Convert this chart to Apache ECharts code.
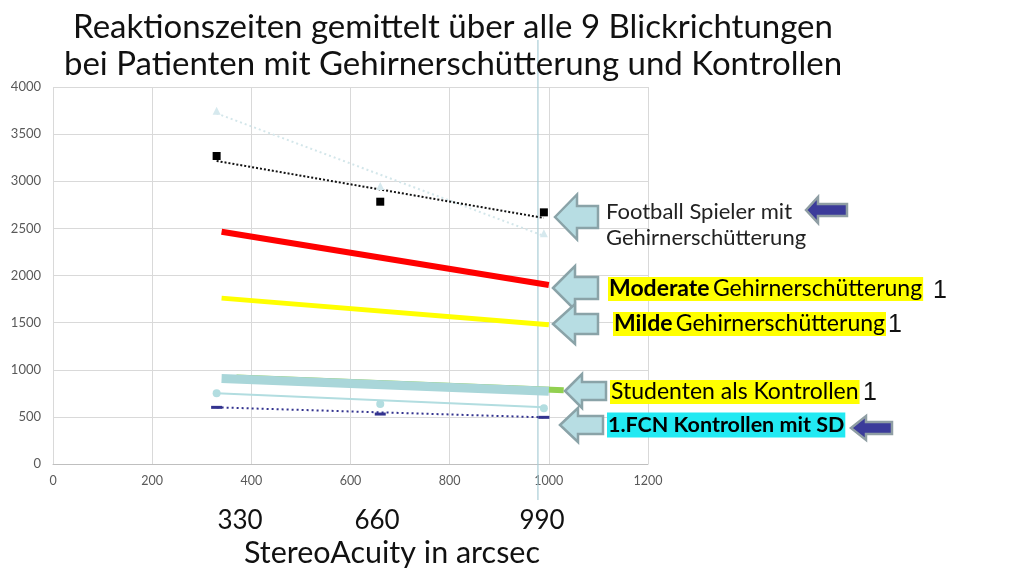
<!DOCTYPE html>
<html>
<head>
    <meta charset="UTF-8">
    <title>Reaktionszeiten</title>
    <style>
        html, body { margin: 0; padding: 0; background: #fff; }
        #main { width: 1024px; height: 586px; }
    </style>
</head>
<body>
<div id="main"></div>
<script src="https://cdn.jsdelivr.net/npm/echarts@6.0.0/dist/echarts.min.js"></script>
<script>
    // Werte
    var stereoX = [330, 660, 990];
    var footballTri = [3748, 2950, 2448];
    var footballTriTrend = [[330, 3720], [990, 2420]];
    var footballSq = [3268, 2783, 2670];
    var footballSqTrend = [[330, 3215], [990, 2610]];
    var moderateLine = [[340, 2465], [1000, 1900]];
    var mildeLine = [[340, 1760], [1000, 1478]];
    var studentenGreen = [[370, 918], [1030, 782]];
    var studentenBand = [[340, 908], [1000, 772]];
    var fcnCircle = [750, 637, 591];
    var fcnCircleTrend = [[330, 750], [990, 602]];
    var fcnSD = [601, 530, 495];
    var fcnSDTrend = [[330, 601], [990, 495]];
    var bottomTicks = ['330', '660', '990'];

    function pts(xs, ys) {
        var out = [];
        for (var i = 0; i < xs.length; i++) out.push([xs[i], ys[i]]);
        return out;
    }

    var FONT = 'Lato';
    var myChart = echarts.init(document.getElementById('main'));

    function line(data, color, width, type, z) {
        return {
            type: 'line', data: data, symbol: 'none', z: z || 2,
            lineStyle: {color: color, width: width, type: type || 'solid', cap: 'butt'},
            silent: true, animation: false
        };
    }
    function scatter(data, symbol, size, color, z) {
        return {
            type: 'scatter', data: data, symbol: symbol, symbolSize: size, z: z || 3,
            itemStyle: {color: color, opacity: 1}, silent: true, animation: false
        };
    }

    var option = {
        animation: false,
        grid: {left: 53, right: 376, top: 87, bottom: 122},
        xAxis: {
            type: 'value', min: 0, max: 1200, interval: 200,
            axisLine: {show: true, lineStyle: {color: '#bfbfbf'}},
            axisTick: {show: false},
            axisLabel: {color: '#595959', fontSize: 12.5, fontFamily: FONT, margin: 10,
                formatter: function (v) { return String(v); }},
            splitLine: {show: true, lineStyle: {color: '#d9d9d9'}}
        },
        yAxis: {
            type: 'value', min: 0, max: 4000, interval: 500,
            axisLine: {show: false},
            axisTick: {show: false},
            axisLabel: {color: '#595959', fontSize: 13, fontFamily: FONT, margin: 12,
                formatter: function (v) { return String(v); }},
            splitLine: {show: true, lineStyle: {color: '#d9d9d9'}}
        },
        series: [
            line(footballTriTrend, '#d3e6ea', 2, [2, 3]),
            scatter(pts(stereoX, footballTri), 'triangle', 8, '#d6e9ee'),
            line(footballSqTrend, '#111', 2, [2, 2]),
            scatter(pts(stereoX, footballSq), 'rect', 8, '#000'),
            line(moderateLine, '#ff0000', 6),
            line(mildeLine, '#ffff00', 5),
            line(studentenGreen, '#92d050', 6),
            line(studentenBand, '#a9d6d9', 9),
            line(fcnCircleTrend, '#b2dde0', 2),
            scatter(pts(stereoX, fcnCircle), 'circle', 8, '#b2dde0'),
            line(fcnSDTrend, '#33338f', 2, [2, 3]),
            scatter(pts(stereoX, fcnSD), 'rect', [11, 3], '#33338f')
        ]
    };
    myChart.setOption(option);

    // Pfeile (nach links zeigend)
    function arrow(tipX, yc, len, h, shaftH, headW, fill, stroke) {
        return {
            type: 'polygon', z: 10,
            shape: {points: [
                [tipX, yc], [tipX + headW, yc - h / 2], [tipX + headW, yc - shaftH / 2],
                [tipX + len, yc - shaftH / 2], [tipX + len, yc + shaftH / 2],
                [tipX + headW, yc + shaftH / 2], [tipX + headW, yc + h / 2]
            ]},
            style: {fill: fill, stroke: stroke, lineWidth: 2.5}
        };
    }
    var lightFill = '#b7dde3', lightStroke = '#8aa3a8';
    var navyFill = '#3b3b9a', navyStroke = '#8f9ea4';

    function label(x, y, rich, text, bg) {
        return {
            type: 'text', z: 11, x: x, y: y,
            style: {
                text: text, rich: rich, backgroundColor: bg || 'transparent',
                padding: [0, 1, 0, 1], verticalAlign: 'middle'
            }
        };
    }
    var richN = {
        n: {fontFamily: FONT, fontSize: 23, color: '#222', lineHeight: 24},
        b: {fontFamily: FONT, fontSize: 23, fontWeight: 'bold', color: '#111', lineHeight: 24}
    };

    var vx = myChart.convertToPixel({xAxisIndex: 0}, 978);

    myChart.setOption({
        graphic: [
            {type: 'line', z: 1, shape: {x1: vx, y1: 40, x2: vx, y2: 500},
                style: {stroke: '#a9cdd6', lineWidth: 1.2}},
            {type: 'text', z: 11, x: 453, y: 27,
                style: {text: 'Reaktionszeiten gemittelt über alle 9 Blickrichtungen', fontFamily: FONT,
                    fontSize: 33, fill: '#111', align: 'center', verticalAlign: 'middle'}},
            {type: 'text', z: 11, x: 453, y: 64,
                style: {text: 'bei Patienten mit Gehirnerschütterung und Kontrollen', fontFamily: FONT,
                    fontSize: 33, fill: '#111', align: 'center', verticalAlign: 'middle'}},
            {type: 'text', z: 11, x: 240, y: 521,
                style: {text: bottomTicks[0], fontFamily: FONT, fontSize: 26, fill: '#111', align: 'center', verticalAlign: 'middle'}},
            {type: 'text', z: 11, x: 377, y: 521,
                style: {text: bottomTicks[1], fontFamily: FONT, fontSize: 26, fill: '#111', align: 'center', verticalAlign: 'middle'}},
            {type: 'text', z: 11, x: 542, y: 521,
                style: {text: bottomTicks[2], fontFamily: FONT, fontSize: 26, fill: '#111', align: 'center', verticalAlign: 'middle'}},
            {type: 'text', z: 11, x: 392, y: 553,
                style: {text: 'StereoAcuity in arcsec', fontFamily: FONT, fontSize: 30.5, fill: '#111', align: 'center', verticalAlign: 'middle'}},

            arrow(555, 217, 43, 45, 22, 22, lightFill, lightStroke),
            arrow(553, 288, 45, 44, 22, 22, lightFill, lightStroke),
            arrow(553, 324, 45, 40, 20, 22, lightFill, lightStroke),
            arrow(565, 391, 41, 34, 18, 17, lightFill, lightStroke),
            arrow(560, 425, 43, 34, 18, 18, lightFill, lightStroke),
            arrow(806, 210, 41, 26, 12, 12, navyFill, navyStroke),
            arrow(851, 428, 41, 24, 12, 15, navyFill, navyStroke),

            {type: 'text', z: 11, x: 606, y: 212,
                style: {text: 'Football Spieler mit', fontFamily: FONT, fontSize: 22, fill: '#222', verticalAlign: 'middle'}},
            {type: 'text', z: 11, x: 606, y: 238,
                style: {text: 'Gehirnerschütterung', fontFamily: FONT, fontSize: 22, fill: '#222', verticalAlign: 'middle'}},

            label(608, 289, richN, '{b|Moderate} {n|Gehirnerschütterung}', '#ffff00'),
            label(613, 324, richN, '{b|Milde} {n|Gehirnerschütterung}', '#ffff00'),
            label(610, 392, richN, '{n|Studenten als Kontrollen}', '#ffff00'),
            label(607, 425, {b: {fontFamily: FONT, fontSize: 21.5, fontWeight: 'bold', color: '#111', lineHeight: 25}},
                '{b|1.FCN Kontrollen mit SD}', '#22e9f2'),

            {type: 'text', z: 11, x: 933, y: 291,
                style: {text: '1', fontFamily: 'Liberation Sans', fontSize: 25, fill: '#111', verticalAlign: 'middle'}},
            {type: 'text', z: 11, x: 888, y: 325,
                style: {text: '1', fontFamily: 'Liberation Sans', fontSize: 25, fill: '#111', verticalAlign: 'middle'}},
            {type: 'text', z: 11, x: 863, y: 393,
                style: {text: '1', fontFamily: 'Liberation Sans', fontSize: 25, fill: '#111', verticalAlign: 'middle'}}
        ]
    });
</script>
</body>
</html>
